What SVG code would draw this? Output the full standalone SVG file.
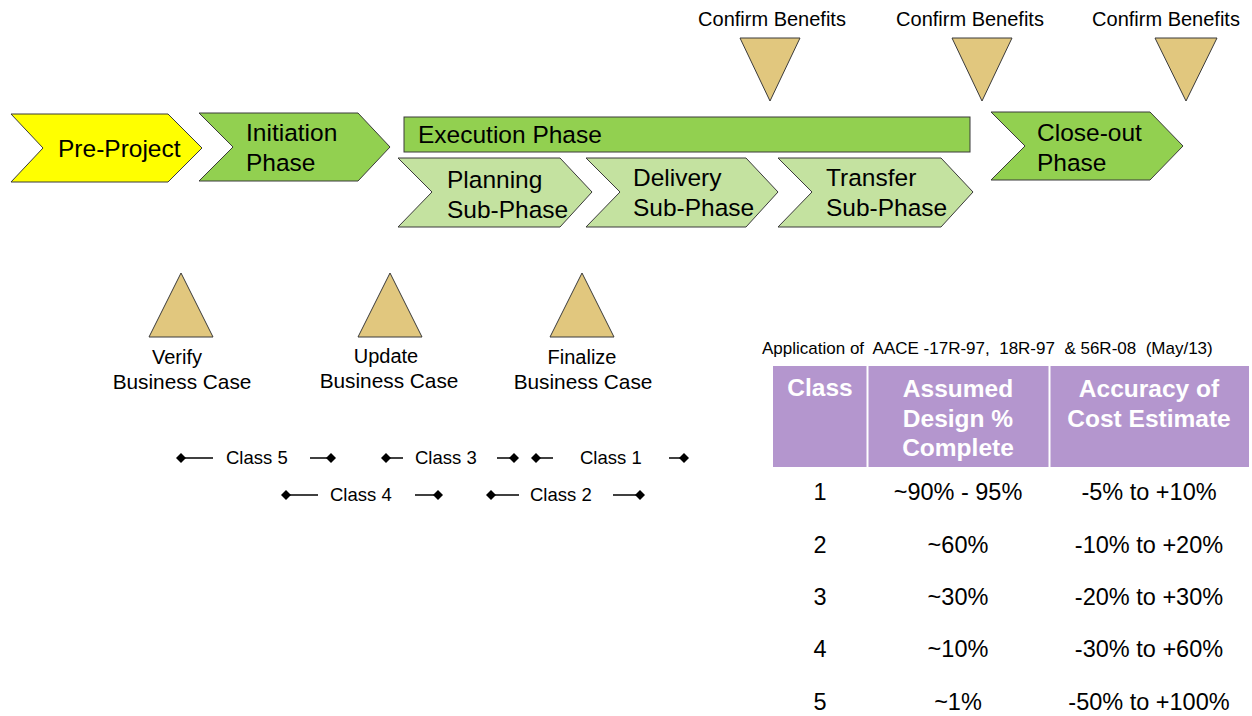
<svg xmlns="http://www.w3.org/2000/svg" width="1252" height="716" viewBox="0 0 1252 716">
<style>
text{font-family:"Liberation Sans",Arial,sans-serif;fill:#000}
.chev{stroke:#3a3a3a;stroke-width:1}
.yel{fill:#FFFF00}
.grn{fill:#92D050}
.lgr{fill:#C4E2A0}
.tri{fill:#E1C77E;stroke:#3a3a3a;stroke-width:1}
.big{font-size:24.5px}
.mid{font-size:20px}
.bc{font-size:20.8px}
.cls{font-size:18.5px}
.th{font-size:24.5px;font-weight:bold;fill:#fff;text-anchor:middle}
.td{font-size:23.5px;text-anchor:middle}
.ln{stroke:#000;stroke-width:1.5}
.c{text-anchor:middle}
</style>
<defs>
<marker id="dia" viewBox="0 0 10 10" refX="5" refY="5" markerWidth="10" markerHeight="10" markerUnits="userSpaceOnUse" orient="auto"><path d="M0 5L5 0L10 5L5 10Z" fill="#000"/></marker>
</defs>

<g id="pre-project">
<polygon class="chev yel" points="11,114 168,114 202,148 168,182 11,182 43,148"/>
<text class="big" x="58" y="157">Pre-Project</text>
</g>
<g id="initiation">
<polygon class="chev grn" points="199,113 358,113 390,147 358,181 199,181 233,147"/>
<text class="big" x="246" y="141">Initiation</text>
<text class="big" x="246" y="171">Phase</text>
</g>
<g id="execution">
<rect class="chev grn" x="404" y="117" width="566" height="35"/>
<text class="big" x="418" y="143">Execution Phase</text>
</g>
<g id="planning">
<polygon class="chev lgr" points="398,158 560,158 592,192 560,227 398,227 432,192"/>
<text class="big" x="447" y="188">Planning</text>
<text class="big" x="447" y="218">Sub-Phase</text>
</g>
<g id="delivery">
<polygon class="chev lgr" points="586,158 746,158 778,192 746,227 586,227 620,192"/>
<text class="big" x="633" y="186">Delivery</text>
<text class="big" x="633" y="216">Sub-Phase</text>
</g>
<g id="transfer">
<polygon class="chev lgr" points="778,158 941,158 973,192 941,227 778,227 812,192"/>
<text class="big" x="826" y="186">Transfer</text>
<text class="big" x="826" y="216">Sub-Phase</text>
</g>
<g id="close-out">
<polygon class="chev grn" points="991,112 1150,112 1183,146 1150,180 991,180 1025,146"/>
<text class="big" x="1037" y="141">Close-out</text>
<text class="big" x="1037" y="171">Phase</text>
</g>

<g id="confirm1">
<text class="mid c" x="772" y="26">Confirm Benefits</text>
<polygon class="tri" points="740,38 800,38 770,101"/>
</g>
<g id="confirm2">
<text class="mid c" x="970" y="26">Confirm Benefits</text>
<polygon class="tri" points="952,38 1012,38 982,101"/>
</g>
<g id="confirm3">
<text class="mid c" x="1166" y="26">Confirm Benefits</text>
<polygon class="tri" points="1155,38 1217,38 1186,101"/>
</g>

<g id="verify">
<polygon class="tri" points="181,273 213,337 149,337"/>
<text class="mid c" x="177" y="364">Verify</text>
<text class="bc c" x="182" y="389">Business Case</text>
</g>
<g id="update">
<polygon class="tri" points="390,273 422,337 358,337"/>
<text class="mid c" x="386" y="363">Update</text>
<text class="bc c" x="389" y="388">Business Case</text>
</g>
<g id="finalize">
<polygon class="tri" points="582,273 614,337 550,337"/>
<text class="mid c" x="582" y="364">Finalize</text>
<text class="bc c" x="583" y="389">Business Case</text>
</g>

<g id="connectors">
<line class="ln" x1="213" y1="458" x2="181" y2="458" marker-end="url(#dia)"/>
<line class="ln" x1="310" y1="458" x2="331" y2="458" marker-end="url(#dia)"/>
<line class="ln" x1="403" y1="458" x2="386" y2="458" marker-end="url(#dia)"/>
<line class="ln" x1="497" y1="458" x2="514" y2="458" marker-end="url(#dia)"/>
<line class="ln" x1="553" y1="458" x2="536" y2="458" marker-end="url(#dia)"/>
<line class="ln" x1="669" y1="458" x2="684" y2="458" marker-end="url(#dia)"/>
<line class="ln" x1="318" y1="495" x2="286" y2="495" marker-end="url(#dia)"/>
<line class="ln" x1="415" y1="495" x2="438" y2="495" marker-end="url(#dia)"/>
<line class="ln" x1="519" y1="495" x2="491" y2="495" marker-end="url(#dia)"/>
<line class="ln" x1="613" y1="495" x2="640" y2="495" marker-end="url(#dia)"/>
</g>
<g id="class-labels">
<text class="cls" x="226" y="464">Class 5</text>
<text class="cls" x="415" y="464">Class 3</text>
<text class="cls" x="580" y="464">Class 1</text>
<text class="cls" x="330" y="501">Class 4</text>
<text class="cls" x="530" y="501">Class 2</text>
</g>

<g id="table">
<text x="762" y="354" style="font-size:17px" xml:space="preserve">Application of  AACE -17R-97,  18R-97  &amp; 56R-08  (May/13)</text>
<rect x="773" y="366" width="476" height="101" fill="#B496CE"/>
<line x1="867.5" y1="366" x2="867.5" y2="467" stroke="#fff" stroke-width="2"/>
<line x1="1049.5" y1="366" x2="1049.5" y2="467" stroke="#fff" stroke-width="2"/>
<text class="th" x="820" y="396">Class</text>
<text class="th" x="958" y="397">Assumed</text>
<text class="th" x="958" y="427">Design %</text>
<text class="th" x="958" y="456">Complete</text>
<text class="th" x="1149" y="397">Accuracy of</text>
<text class="th" x="1149" y="427">Cost Estimate</text>
<text class="td" x="820" y="500">1</text>
<text class="td" x="958" y="500">~90% - 95%</text>
<text class="td" x="1149" y="500">-5% to +10%</text>
<text class="td" x="820" y="553">2</text>
<text class="td" x="958" y="553">~60%</text>
<text class="td" x="1149" y="553">-10% to +20%</text>
<text class="td" x="820" y="605">3</text>
<text class="td" x="958" y="605">~30%</text>
<text class="td" x="1149" y="605">-20% to +30%</text>
<text class="td" x="820" y="657">4</text>
<text class="td" x="958" y="657">~10%</text>
<text class="td" x="1149" y="657">-30% to +60%</text>
<text class="td" x="820" y="710">5</text>
<text class="td" x="958" y="710">~1%</text>
<text class="td" x="1149" y="710">-50% to +100%</text>
</g>
</svg>
